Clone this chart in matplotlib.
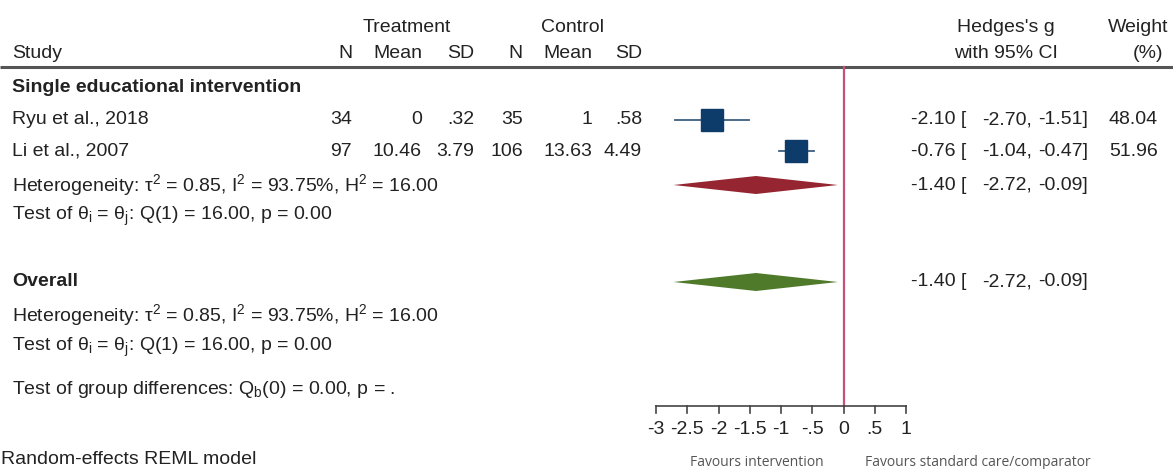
import numpy as np
import matplotlib
matplotlib.use("Agg")
import matplotlib.pyplot as plt

plt.rcParams["font.family"] = ["Liberation Sans", "DejaVu Sans"]
plt.rcParams["mathtext.fontset"] = "custom"
plt.rcParams["mathtext.rm"] = "Liberation Sans"
plt.rcParams["mathtext.it"] = "Liberation Sans:italic"

# study data
studies = ["Ryu et al., 2018", "Li et al., 2007"]
t_n = ["34", "97"]
t_mean = ["0", "10.46"]
t_sd = [".32", "3.79"]
c_n = ["35", "106"]
c_mean = ["1", "13.63"]
c_sd = [".58", "4.49"]
g = [-2.10, -0.76]
g_lo = [-2.70, -1.04]
g_hi = [-1.51, -0.47]
weight = [48.04, 51.96]

# pooled estimates
sub_g, sub_lo, sub_hi = -1.40, -2.72, -0.09
all_g, all_lo, all_hi = -1.40, -2.72, -0.09

xticks = [-3, -2.5, -2, -1.5, -1, -0.5, 0, 0.5, 1]
xticklabels = ["-3", "-2.5", "-2", "-1.5", "-1", "-.5", "0", ".5", "1"]

W, H = 1173, 469
FS = 14
fig = plt.figure(figsize=(W / 100, H / 100), dpi=100)
ax = fig.add_axes([0, 0, 1, 1])
# map effect-size units to pixels: -3 -> 656px, 1 -> 906px
ppu = 62.5
x0 = -3 - 656 / ppu
ax.set_xlim(x0, x0 + W / ppu)
ax.set_ylim(H, 0)
ax.axis("off")

tr = ax.get_yaxis_transform()  # x in axes fraction, y in data


def txt(px, y, s, ha="left", **kw):
    kw.setdefault("fontsize", FS)
    kw.setdefault("color", "#222222")
    ax.text(px / W, y, s, transform=tr, ha=ha, va="center", **kw)


# header
txt(407, 27, "Treatment", ha="center")
txt(572, 27, "Control", ha="center")
txt(1006, 27, "Hedges's g", ha="center")
txt(1168, 27, "Weight", ha="right")
txt(12, 53, "Study")
cols = [352, 422, 474, 523, 592, 642]
for px, s in zip(cols, ["N", "Mean", "SD", "N", "Mean", "SD"]):
    txt(px, 53, s, ha="right")
txt(1006, 53, "with 95% CI", ha="center")
txt(1148, 53, "(%)", ha="center")
ax.plot([0, 1], [67, 67], transform=tr, color="#555555", lw=2.2, solid_capstyle="butt")

# group label
txt(12, 87, "Single educational intervention", fontweight="bold")

rows_y = [120, 151]
for i, y in enumerate(rows_y):
    txt(12, y, studies[i])
    for px, s in zip(cols, [t_n[i], t_mean[i], t_sd[i], c_n[i], c_mean[i], c_sd[i]]):
        txt(px, y, s, ha="right")
    txt(966, y, f"{g[i]:.2f} [", ha="right")
    txt(1032, y, f"{g_lo[i]:.2f},", ha="right")
    txt(1088, y, f"{g_hi[i]:.2f}]", ha="right")
    txt(1158, y, f"{weight[i]:.2f}", ha="right")
    ax.plot([g_lo[i], g_hi[i]], [y, y], color="#3d5f80", lw=1.3, zorder=3)
    ms = 15.8 * np.sqrt(weight[i] / 50)
    ax.plot(g[i], y, marker="s", ms=ms, color="#0e3c6a", mec="#0e3c6a", zorder=4)

het = "Heterogeneity: τ$^{2}$ = 0.85, I$^{2}$ = 93.75%, H$^{2}$ = 16.00"
tst = "Test of θ$_{\\rm i}$ = θ$_{\\rm j}$: Q(1) = 16.00, p = 0.00"

# subgroup summary
txt(12, 185, het)
txt(12, 216, tst)
txt(966, 185, f"{sub_g:.2f} [", ha="right")
txt(1032, 185, f"{sub_lo:.2f},", ha="right")
txt(1088, 185, f"{sub_hi:.2f}]", ha="right")
ax.fill([sub_lo, sub_g, sub_hi, sub_g], [185, 176, 185, 194], color="#952530", lw=0, zorder=3)

# overall
txt(12, 282, "Overall", fontweight="bold")
txt(12, 315, het)
txt(12, 347, tst)
txt(12, 390, "Test of group differences: Q$_{\\rm b}$(0) = 0.00, p = .")
txt(966, 282, f"{all_g:.2f} [", ha="right")
txt(1032, 282, f"{all_lo:.2f},", ha="right")
txt(1088, 282, f"{all_hi:.2f}]", ha="right")
ax.fill([all_lo, all_g, all_hi, all_g], [282, 273, 282, 291], color="#4e7a2a", lw=0, zorder=3)

# no-effect line
ax.plot([0, 0], [67, 406], color="#c8507c", lw=1.6, zorder=2)

# x axis
ax.plot([xticks[0], xticks[-1]], [406, 406], color="#444444", lw=1.2)
for t, lab in zip(xticks, xticklabels):
    ax.plot([t, t], [406, 413], color="#444444", lw=1.2)
    ax.text(t, 430, lab, ha="center", va="center", fontsize=FS, color="#222222")

txt(1, 460, "Random-effects REML model")
txt(757, 462, "Favours intervention", ha="center", fontsize=10,
    color="#555555", family=["Open Sans", "DejaVu Sans"])
txt(978, 462, "Favours standard care/comparator", ha="center", fontsize=10,
    color="#555555", family=["Open Sans", "DejaVu Sans"])

fig.savefig("out.png", dpi=100, facecolor="white")
